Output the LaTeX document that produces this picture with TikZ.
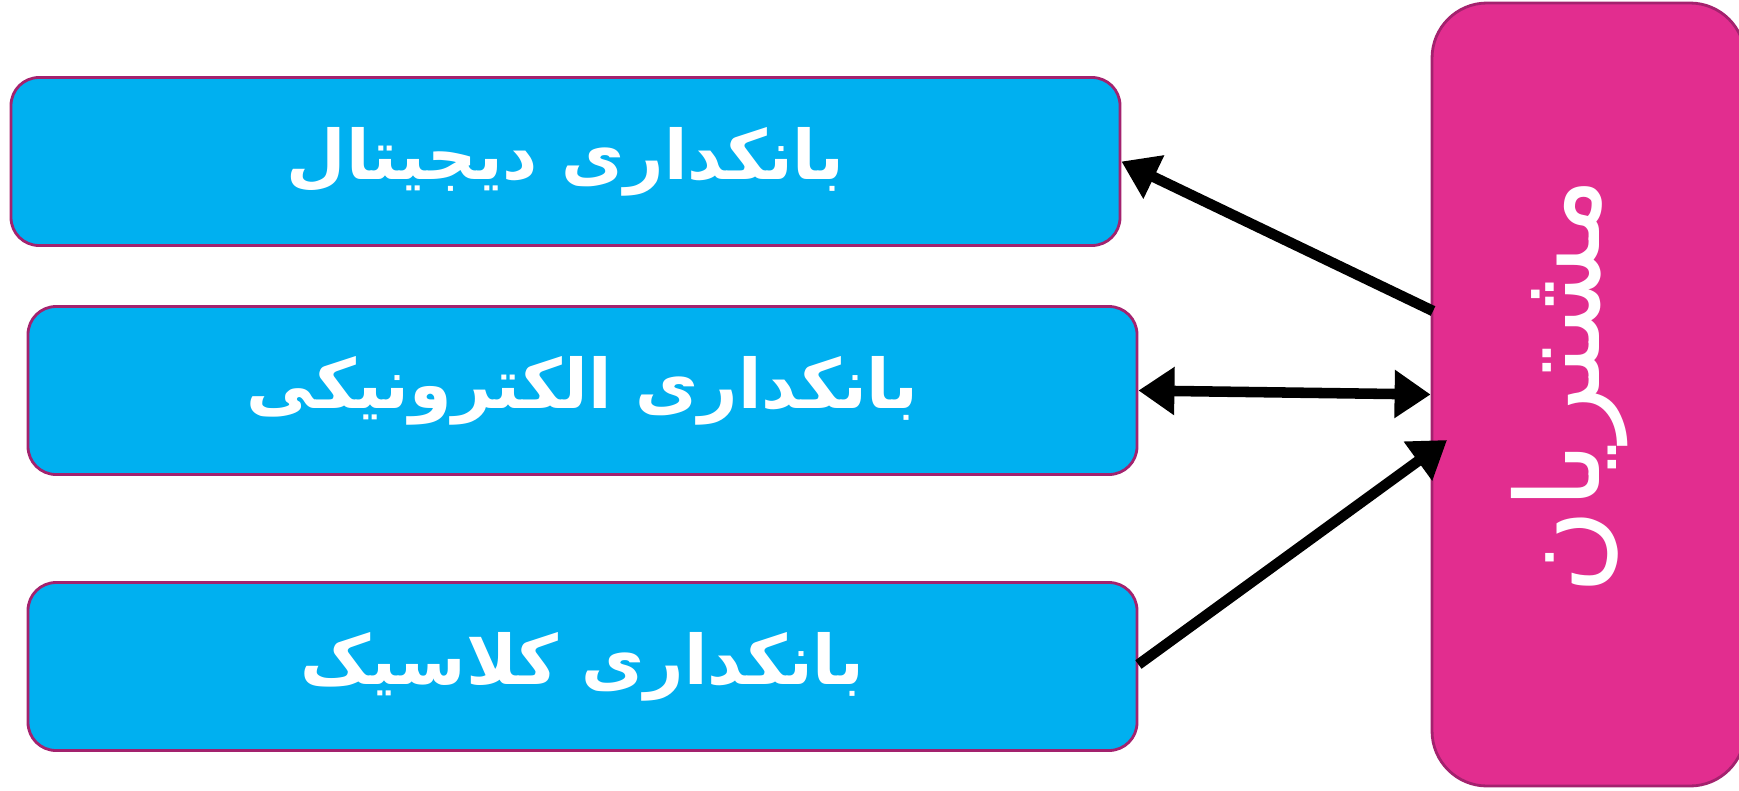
\documentclass[tikz,border=0pt]{standalone}
\usepackage{fontspec}
\usepackage{xcolor}
\usepackage{tikz}
\usetikzlibrary{arrows.meta}
\TeXXeTstate=1
\newfontfamily\farsifont[Script=Arabic]{DejaVu Sans}
\definecolor{boxblue}{HTML}{00B0F0}
\definecolor{boxpink}{HTML}{E22D8F}
\definecolor{boxedge}{HTML}{A3226E}

\begin{document}
\begin{tikzpicture}[
		bankbox/.style={draw=boxedge, line width=0.8pt, fill=boxblue, rounded corners=0.28cm,
			minimum width=11.09cm, minimum height=1.68cm, text=white,
			font=\farsifont\bfseries\fontsize{19.5}{24}\selectfont},
		custbox/.style={draw=boxedge, line width=0.8pt, fill=boxpink, rounded corners=0.55cm,
			minimum width=3.13cm, minimum height=7.83cm},
		link/.style={line width=3pt, -{Triangle[length=0.36cm, width=0.46cm]}}
	]
		\useasboundingbox (0,0) rectangle (17.39,7.9);
		\node[custbox] (cust) at (15.885,3.955) {};
		\node[text=white, rotate=90, font=\farsifont\fontsize{33}{38}\selectfont] (custtext) at (15.70,4.04) {\beginR مشتریان\endR};
		\node[bankbox] (dig) at (5.655,6.285) {\beginR بانکداری دیجیتال\endR};
		\node[bankbox] (elec) at (5.825,3.995) {\beginR بانکداری الکترونیکی\endR};
		\node[bankbox] (cls) at (5.825,1.235) {\beginR بانکداری کلاسیک\endR};
		\coordinate (p1) at (14.33,4.79);
		\coordinate (p3) at (14.47,3.50);
		\draw[link] (p1) -- (dig.east);
		\draw[link, {Triangle[length=0.36cm, width=0.46cm]}-{Triangle[length=0.36cm, width=0.46cm]}] (elec.east) -- (cust.west);
		\draw[link] (cls.east) ++(0,0.02) -- (p3);
	\end{tikzpicture}
\end{document}
